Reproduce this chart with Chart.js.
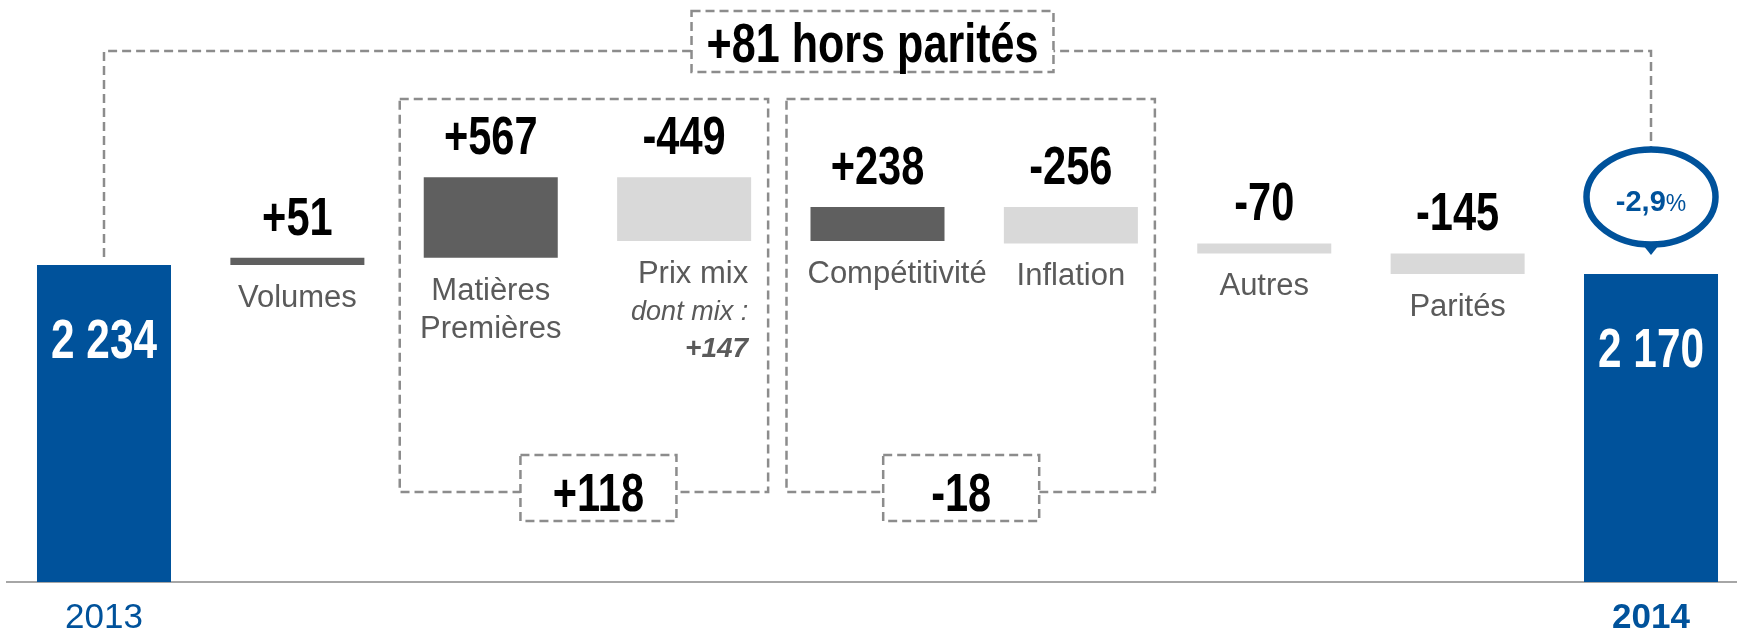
<!DOCTYPE html>
<html lang="fr">
<head>
<meta charset="utf-8">
<title>Pont 2013 - 2014</title>
<script src="https://cdn.jsdelivr.net/npm/chart.js@4/dist/chart.umd.min.js"></script>
<style>
  html, body { margin: 0; padding: 0; background: #fff; }
  #wrap { width: 1737px; height: 630px; position: relative; }
</style>
</head>
<body>
<div id="wrap"><canvas id="bridge"></canvas></div>
<script>
// --- data ---
const categories = ['2013', 'Volumes', ['Matières', 'Premières'], 'Prix mix', 'Compétitivité', 'Inflation', 'Autres', 'Parités', '2014'];
const startValue = 2234;
const endValue = 2170;
const deltas = [51, 567, -449, 238, -256, -70, -145];
const mixValue = 147;               // "dont mix : +147"
const groupRanges = [[2, 3], [4, 5]]; // category indexes inside the dashed boxes

// --- styles ---
const BLUE = '#00529B';
const DARK = '#5F5F5F';
const LIGHT = '#D9D9D9';
const GRAY_TEXT = '#5A5A5A';
const DASH = '#8C8C8C';
const SANS = '"Liberation Sans", Arial, sans-serif';
const SQUEEZE = 0.77; // condensed look of the bold figures
const labelAlign = ['center', 'center', 'center', 'right', 'left', 'center', 'center', 'center', 'center'];
const subBoxShift = [11, -13];

// floating bars built from the running total
const ranges = [[0, startValue]];
let running = startValue;
deltas.forEach(d => {
  ranges.push([Math.min(running, running + d), Math.max(running, running + d)]);
  running += d;
});
ranges.push([0, endValue]);

const last = categories.length - 1;
const barData = ranges.map((r, i) => ({ x: i, y: r }));
const barColors = ranges.map((r, i) => {
  if (i === 0 || i === last) return BLUE;
  return deltas[i - 1] > 0 ? DARK : LIGHT;
});

const fmtThousands = v => String(v).replace(/\B(?=(\d{3})+(?!\d))/g, ' ');
const fmtSigned = v => (v > 0 ? '+' : '') + v;

function text(ctx, s, x, y, font, color, align, sx) {
  ctx.save();
  ctx.translate(x, y);
  ctx.scale(sx || 1, 1);
  ctx.font = font;
  ctx.fillStyle = color;
  ctx.textAlign = align || 'center';
  ctx.textBaseline = 'alphabetic';
  ctx.fillText(s, 0, 0);
  ctx.restore();
}

function dashedBox(ctx, l, t, w, h) {
  ctx.fillStyle = '#fff';
  ctx.fillRect(l, t, w, h);
  ctx.strokeRect(l, t, w, h);
}

const annotations = {
  id: 'annotations',
  afterDraw(chart) {
    const ctx = chart.ctx;
    const bars = chart.getDatasetMeta(0).data;
    const top = i => Math.min(bars[i].y, bars[i].base);
    const bottom = i => Math.max(bars[i].y, bars[i].base);
    const bubbleCy = top(last) - 77;
    const BIG = 'bold 54px ' + SANS;

    ctx.save();
    ctx.setLineDash([9, 5]);
    ctx.lineWidth = 2.5;
    ctx.strokeStyle = DASH;

    // bracket 2013 -> 2014
    ctx.beginPath();
    ctx.moveTo(bars[0].x, top(0) - 8);
    ctx.lineTo(bars[0].x, 51);
    ctx.lineTo(bars[last].x, 51);
    ctx.lineTo(bars[last].x, bubbleCy - 50);
    ctx.stroke();

    // group boxes
    groupRanges.forEach(([a, b]) => {
      const l = bars[a].x - bars[a].width / 2 - 24;
      const r = bars[b].x + bars[b].width / 2 + 17;
      ctx.strokeRect(l, 99, r - l, 393);
    });

    // subtotal boxes
    groupRanges.forEach(([a, b], g) => {
      const sum = deltas.slice(a - 1, b).reduce((s, v) => s + v, 0);
      const cx = (bars[a].x + bars[b].x) / 2 + subBoxShift[g];
      dashedBox(ctx, cx - 78, 455, 156, 66);
      text(ctx, fmtSigned(sum), cx, 511, BIG, '#000', 'center', SQUEEZE);
    });

    // "+81 hors parités"
    const horsParites = deltas.slice(0, -1).reduce((s, v) => s + v, 0);
    const hpText = fmtSigned(horsParites) + ' hors parités';
    const HP = 'bold 56px ' + SANS;
    ctx.font = HP;
    const hpW = ctx.measureText(hpText).width * SQUEEZE + 30;
    const hpX = (bars[0].x + bars[last].x) / 2 - 5;
    dashedBox(ctx, hpX - hpW / 2, 11, hpW, 61);
    text(ctx, hpText, hpX, 62, HP, '#000', 'center', SQUEEZE);
    ctx.setLineDash([]);

    // totals inside the blue bars
    [0, last].forEach(i => {
      const v = i === 0 ? startValue : endValue;
      text(ctx, fmtThousands(v), bars[i].x, top(i) + 93, 'bold 55px ' + SANS, '#fff', 'center', SQUEEZE);
    });

    // delta values and category names
    deltas.forEach((d, k) => {
      const i = k + 1;
      const b = bars[i];
      text(ctx, fmtSigned(d), b.x, top(i) - 23, BIG, '#000', 'center', SQUEEZE);
      const lines = [].concat(categories[i]);
      const align = labelAlign[i];
      const lx = align === 'right' ? b.x + b.width / 2 - 3 : align === 'left' ? b.x - b.width / 2 - 3 : b.x;
      lines.forEach((ln, j) => {
        text(ctx, ln, lx, bottom(i) + 42 + j * 38, '31px ' + SANS, GRAY_TEXT, align);
      });
      if (i === 3) {
        text(ctx, 'dont mix :', lx, bottom(i) + 79, 'italic 27px ' + SANS, GRAY_TEXT, 'right');
        text(ctx, fmtSigned(mixValue), lx, bottom(i) + 116, 'italic bold 28px ' + SANS, GRAY_TEXT, 'right');
      }
    });

    // bubble with the change in %
    const bx = bars[last].x;
    ctx.beginPath();
    ctx.ellipse(bx, bubbleCy, 64.5, 47.5, 0, 0, Math.PI * 2);
    ctx.fillStyle = '#fff';
    ctx.fill();
    ctx.lineWidth = 6.5;
    ctx.strokeStyle = BLUE;
    ctx.stroke();
    ctx.beginPath();
    ctx.moveTo(bx - 8, bubbleCy + 48);
    ctx.lineTo(bx + 8, bubbleCy + 48);
    ctx.lineTo(bx, bubbleCy + 58);
    ctx.closePath();
    ctx.fillStyle = BLUE;
    ctx.fill();

    const pct = ((endValue - startValue) / startValue * 100).toFixed(1).replace('.', ',');
    ctx.font = 'bold 29px ' + SANS;
    const w1 = ctx.measureText(pct).width;
    ctx.font = '23px ' + SANS;
    const w2 = ctx.measureText('%').width;
    const x0 = bx - (w1 + w2) / 2;
    text(ctx, pct, x0, bubbleCy + 14, 'bold 29px ' + SANS, BLUE, 'left');
    text(ctx, '%', x0 + w1, bubbleCy + 14, '23px ' + SANS, BLUE, 'left');

    ctx.restore();
  }
};

new Chart(document.getElementById('bridge'), {
  type: 'bar',
  data: {
    labels: categories,
    datasets: [{
      data: barData,
      backgroundColor: barColors,
      borderWidth: 0,
      barPercentage: 0.693,
      categoryPercentage: 1
    }]
  },
  options: {
    responsive: true,
    maintainAspectRatio: false,
    animation: false,
    layout: { padding: { left: 7, right: 0, top: 0, bottom: 0 } },
    plugins: {
      legend: { display: false },
      tooltip: { enabled: false }
    },
    scales: {
      x: {
        type: 'linear',
        offset: false,
        min: -0.5016,
        max: 8.4447,
        grid: { display: false, drawTicks: false },
        border: { display: true, color: '#A6A6A6', width: 2 },
        afterBuildTicks: scale => {
          scale.ticks = [{ value: 0 }, { value: last }];
        },
        ticks: {
          padding: 15,
          autoSkip: false,
          maxRotation: 0,
          color: BLUE,
          callback: value => categories[value],
          font: ctx => ({
            family: SANS,
            size: 35,
            weight: ctx.tick && ctx.tick.value === last ? 'bold' : 'normal'
          })
        },
        afterFit: scale => { scale.height = 48; }
      },
      y: { display: false, min: 0, max: 4100 }
    }
  },
  plugins: [annotations]
});
</script>
</body>
</html>
